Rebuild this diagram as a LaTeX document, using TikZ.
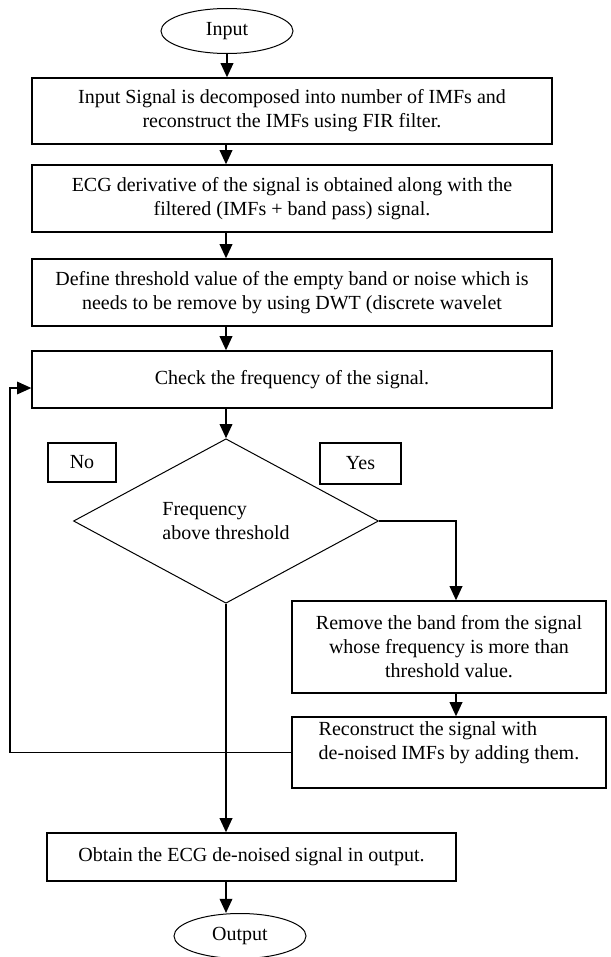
\documentclass[tikz,border=0pt]{standalone}
\usepackage{fontspec}
\setmainfont{Liberation Serif}
\usetikzlibrary{arrows.meta,shapes.geometric,positioning}

\begin{document}
\begin{tikzpicture}[x=0.6pt,y=-0.6pt,>={Triangle[length=8.5pt,width=7.5pt]},
  every node/.style={font=\fontsize{12}{14.4}\selectfont},
  box/.style={draw,line width=0.8pt,inner sep=0pt,align=center},
  term/.style={draw,ellipse,line width=0.6pt,inner sep=0pt,minimum width=79.2pt,minimum height=27pt},
  decision/.style={draw,diamond,line width=0.6pt,inner sep=0pt,align=left},
  flow/.style={->,line width=1.2pt},
  back/.style={->,line width=0.8pt}]
  \useasboundingbox (0,0) rectangle (610,957);

  % Guide lines for the connectors
  \coordinate (tr) at (226,0);
  \coordinate (yx) at (456,0);
  \coordinate (lx) at (10,0);

  % Main column
  \node[term] (inp) at (227,31) {Input};
  \node[box,minimum width=312pt,minimum height=39.6pt] (b1) at (292,111)
    {Input Signal is decomposed into number of IMFs and\\reconstruct the IMFs using FIR filter.};
  \node[box,minimum width=312pt,minimum height=40.2pt] (b2) at (292,198.5)
    {ECG derivative of the signal is obtained along with the\\filtered (IMFs + band pass) signal.};
  \node[box,minimum width=312pt,minimum height=40.2pt] (b3) at (292,292.5)
    {Define threshold value of the empty band or noise which is\\needs to be remove by using DWT (discrete wavelet};
  \node[box,minimum width=312pt,minimum height=34.2pt] (b4) at (292,379.5)
    {\raisebox{2pt}{Check the frequency of the signal.}};

  % Decision
  \node[decision,minimum width=183pt,minimum height=93.6pt] (dec) at (226,521)
    {Frequency\\above threshold};
  \node[box,minimum width=40.8pt,minimum height=23.4pt] (no) at (82,462.5) {No};
  \node[box,minimum width=48.6pt,minimum height=24.6pt] (yes) at (360.5,463.5) {Yes};

  % Right branch
  \node[box,minimum width=188.4pt,minimum height=55.2pt] (b5) at (449,647)
    {Remove the band from the signal\\whose frequency is more than\\threshold value.};
  \node[box,align=left,minimum width=188.4pt,minimum height=42.6pt] (b6) at (449,752.5)
    {Reconstruct the signal with\\de-noised IMFs by adding them.\\\mbox{}};

  % Output
  \node[box,minimum width=245.4pt,minimum height=28.8pt] (ob) at (251.5,857)
    {Obtain the ECG de-noised signal in output.};
  \node[term] (outp) at (240,936) {Output};

  % Connectors
  \draw[flow] (inp.south) -- (inp.south |- b1.north);
  \draw[flow] (tr |- b1.south) -- (tr |- b2.north);
  \draw[flow] (tr |- b2.south) -- (tr |- b3.north);
  \draw[flow] (tr |- b3.south) -- (tr |- b4.north);
  \draw[flow] (tr |- b4.south) -- (dec.north);
  \draw[flow] (dec.east) -| (yx |- b5.north);
  \draw[flow] (yx |- b5.south) -- (yx |- b6.north);
  \draw[back] (b6.west) -| ([yshift=-5.1pt]lx |- b4.west) -- ([yshift=-5.1pt]b4.west);
  \draw[flow] (dec.south) -- (dec.south |- ob.north);
  \draw[flow] (tr |- ob.south) -- (tr |- outp.north);
\end{tikzpicture}
\end{document}
